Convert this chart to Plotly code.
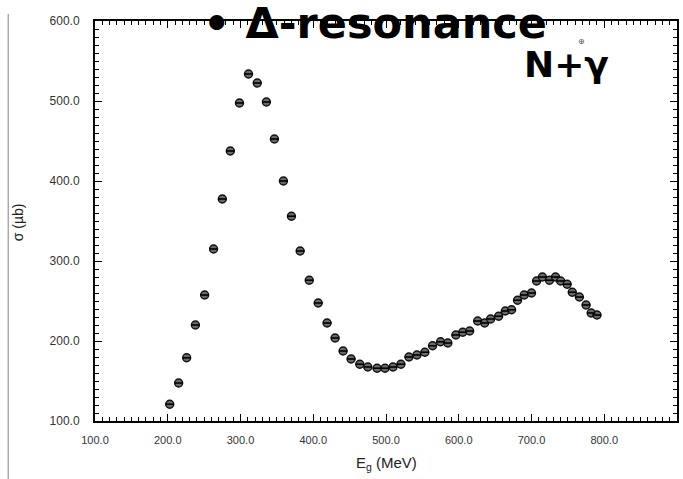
import plotly.graph_objects as go

energy_mev = [202.7, 215, 226, 238, 250.7, 263, 275, 286, 298.6, 311, 323, 335.6, 346.6, 359, 370,
              382, 394.5, 406.8, 419, 430, 441, 452, 464, 475, 487.7, 498.6, 509.6, 520.5, 531.5,
              542.5, 553.4, 564, 575, 585, 596, 605.5, 615, 626, 635.6, 643.8, 654.8, 664, 672.6,
              680.8, 690, 700, 707, 715, 724.7, 733, 740, 749, 756, 765.8, 775, 782, 790]
sigma_ub = [121, 147.5, 179, 220, 257.5, 315, 377.5, 437.5, 497.5, 533.8, 522.5, 498.8, 452.5, 400,
            356, 312.5, 276, 247.5, 222.5, 203.8, 187.5, 177.5, 171, 167.5, 166, 166, 167.5, 171,
            180, 182.5, 186, 194, 199, 197.5, 207.5, 211, 212.5, 225, 222.5, 227.5, 231, 237.5, 239,
            251, 257.5, 260, 275, 280, 276, 280, 275, 271, 261, 255, 245, 235, 232.5]

x_ticks = [100, 200, 300, 400, 500, 600, 700, 800, 900]
y_ticks = [100, 200, 300, 400, 500, 600]

W, H = 683, 479
L, R, T, B = 95, 4, 21, 58
pw, ph = W - L - R, H - T - B


def px(xp):
    return (xp - L) / pw


def py(yp):
    return (H - B - yp) / ph


fig = go.Figure()
fig.add_trace(go.Scatter(
    x=energy_mev, y=sigma_ub, mode="markers",
    marker=dict(symbol="circle", size=8, color="#6a6a6a", line=dict(color="#111", width=1.4)),
    showlegend=False, hoverinfo="x+y"))
fig.add_trace(go.Scatter(
    x=energy_mev, y=sigma_ub, mode="markers",
    marker=dict(symbol="line-ew", size=6, line=dict(color="#000", width=1.6)),
    showlegend=False, hoverinfo="skip"))

axis_common = dict(
    showline=True, linecolor="black", linewidth=2, mirror="ticks",
    ticks="inside", ticklen=7, tickwidth=1, tickcolor="black",
    minor=dict(ticks="inside", ticklen=4, tickwidth=1, tickcolor="black", dtick=10),
    showgrid=False, zeroline=False,
    tickformat=".1f",
)

fig.update_layout(
    width=W, height=H,
    margin=dict(l=L, r=R, t=T, b=B),
    paper_bgcolor="white", plot_bgcolor="white",
    xaxis=dict(range=[100, 900], tickvals=x_ticks, ticklabelstandoff=8,
               tickfont=dict(family="Liberation Sans, Arial, sans-serif", size=11, color="#333"),
               **axis_common),
    yaxis=dict(range=[100, 600], tickvals=y_ticks, ticklabelstandoff=11,
               tickfont=dict(family="Liberation Sans, Arial, sans-serif", size=12, color="#333"),
               **axis_common),
    shapes=[dict(type="line", xref="paper", yref="paper",
                 x0=px(8), x1=px(8), y0=py(14), y1=py(479),
                 line=dict(color="#aaaaaa", width=1.5))],
    annotations=[
        dict(text="σ (µb)", xref="paper", yref="paper", x=px(18), y=py(222),
             textangle=-90, showarrow=False, xanchor="center", yanchor="middle",
             font=dict(family="Liberation Sans, Arial, sans-serif", size=14, color="#222")),
        dict(text="E<sub>g</sub> (MeV)", xref="paper", yref="paper", x=px(388), y=py(463),
             showarrow=False, xanchor="center", yanchor="middle",
             font=dict(family="Liberation Sans, Arial, sans-serif", size=15, color="#222")),
        dict(text="• Δ-resonance", xref="paper", yref="paper", x=px(376), y=py(23),
             showarrow=False, xanchor="center", yanchor="middle",
             font=dict(family="DejaVu Sans, sans-serif", size=43, color="black", weight="bold")),
        dict(text="N+γ", xref="paper", yref="paper", x=px(568), y=py(64),
             showarrow=False, xanchor="center", yanchor="middle",
             font=dict(family="DejaVu Sans, sans-serif", size=36, color="black", weight="bold")),
        dict(text="⊕", xref="paper", yref="paper", x=px(583), y=py(41),
             showarrow=False, xanchor="center", yanchor="middle",
             font=dict(family="DejaVu Sans, sans-serif", size=8, color="#555")),
    ],
)

fig.write_html("out.html")
